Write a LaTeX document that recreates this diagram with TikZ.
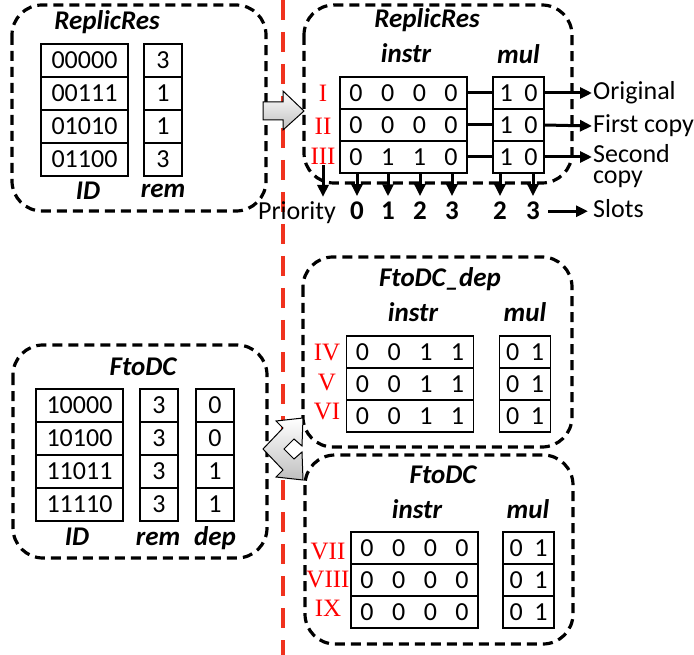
\documentclass[tikz,border=0pt]{standalone}
\usepackage{fontspec}
\setmainfont{Carlito}
\newfontfamily\romfont{Liberation Serif}
\usetikzlibrary{arrows.meta}

\definecolor{cutred}{RGB}{240,50,30}
\newcommand{\dgap}{\hspace{18.5pt}}
\newcommand{\mgap}{\hspace{11.5pt}}

\tikzset{
  grpbox/.style={draw, line width=3.2pt, dash pattern=on 10pt off 6pt, rounded corners=30pt},
  cellbox/.style={draw, line width=1.2pt, fill=white, inner sep=0pt, outer sep=0pt,
    font=\fontsize{26}{28}\selectfont},
  idcell/.style={cellbox, minimum width=87pt, minimum height=33pt},
  remcell/.style={cellbox, minimum width=38pt, minimum height=33pt},
  instrcell/.style={cellbox, minimum width=127pt, minimum height=32pt},
  mulcell/.style={cellbox, minimum width=51pt, minimum height=32pt},
  titletext/.style={anchor=base, inner sep=1pt, font=\fontsize{27}{28}\selectfont\bfseries\itshape},
  romnum/.style={inner sep=1pt, text=red, font=\fontsize{25}{26}\selectfont\romfont},
  bodytext/.style={inner sep=1pt, font=\fontsize{26}{28}\selectfont},
  slotnum/.style={anchor=base, inner sep=1pt, font=\fontsize{27}{28}\selectfont\bfseries},
  flowarrow/.style={line width=3pt, -{Triangle[length=12pt,width=11pt]}},
  greyarrow/.style={draw, line width=1pt, top color=white, bottom color=gray!50},
}

\begin{document}
\begin{tikzpicture}[x=1pt,y=-1pt]
    \useasboundingbox (0,0) rectangle (694,655);

    % Red cut line
    \draw[cutred, line width=4pt, dash pattern=on 20pt off 12pt] (283,0) -- (283,655);

    % Group boxes
    \draw[grpbox] (12,5) rectangle (266,211);
    \draw[grpbox] (304,5) rectangle (572,183);
    \draw[grpbox] (13,345) rectangle (267,558);
    \draw[grpbox] (303,257) rectangle (572,447);
    \draw[grpbox] (305,455) rectangle (573,644);

    % ReplicRes table (left)
    \node[titletext] (rtitle) at (107,30) {ReplicRes};
    \node[idcell] (rid1) at (84.5,60.5) {00000};
    \node[idcell] (rid2) at (84.5,93.5) {00111};
    \node[idcell] (rid3) at (84.5,126.5) {01010};
    \node[idcell] (rid4) at (84.5,159.5) {01100};
    \node[remcell] (rrem1) at (163,60.5) {3};
    \node[remcell] (rrem2) at (163,93.5) {1};
    \node[remcell] (rrem3) at (163,126.5) {1};
    \node[remcell] (rrem4) at (163,159.5) {3};
    \node[titletext] (ridlab) at (88,200) {ID};
    \node[titletext] (rremlab) at (163,198) {rem};

    % ReplicRes slots (right)
    \node[titletext] (rtitle2) at (427,28) {ReplicRes};
    \node[titletext] (rinstr) at (406,63) {instr};
    \node[titletext] (rmul) at (518.5,64) {mul};
    \node[instrcell] (ri1) at (403.5,93) {0\dgap0\dgap0\dgap0};
    \node[instrcell] (ri2) at (403.5,125) {0\dgap0\dgap0\dgap0};
    \node[instrcell] (ri3) at (403.5,157) {0\dgap1\dgap1\dgap0};
    \node[mulcell] (rm1) at (518.5,93) {1\mgap0};
    \node[mulcell] (rm2) at (518.5,125) {1\mgap0};
    \node[mulcell] (rm3) at (518.5,157) {1\mgap0};
    \node[romnum] (rn1) at (323,93) {I};
    \node[romnum] (rn2) at (323,126) {II};
    \node[romnum] (rn3) at (323,156) {III};
    \draw[line width=3pt] (ri1.east) -- (rm1.west);
    \draw[line width=3pt] (ri2.east) -- (rm2.west);
    \draw[line width=3pt] (ri3.east) -- (rm3.west);

    % Copies
    \node[bodytext, anchor=west] (orig) at (592,93) {Original};
    \node[bodytext, anchor=west] (first) at (592,126) {First copy};
    \node[bodytext, anchor=west, align=left, font=\fontsize{26}{21}\selectfont] (second) at (592,166) {Second\\copy};
    \draw[flowarrow] (rm1.east) -- (orig.west);
    \draw[flowarrow] (rm2.east) -- (first.west);
    \draw[flowarrow] (rm3.east) -- (rm3.east -| second.west);

    % Priority and slots
    \node[bodytext, anchor=base] (prio) at (297,220) {Priority};
    \node[slotnum] (p0) at (357,220) {0};
    \node[slotnum] (p1) at (388,220) {1};
    \node[slotnum] (p2) at (420,220) {2};
    \node[slotnum] (p3) at (452,220) {3};
    \node[slotnum] (m2) at (500,220) {2};
    \node[slotnum] (m3) at (533,220) {3};
    \node[bodytext, anchor=base west] (slots) at (592,218) {Slots};
    \draw[flowarrow, shorten >=4pt] (rn3.south) -- (rn3.south |- prio.north);
    \draw[flowarrow, shorten >=5pt] (p0 |- ri3.south) -- (p0.north);
    \draw[flowarrow, shorten >=5pt] (p1 |- ri3.south) -- (p1.north);
    \draw[flowarrow, shorten >=5pt] (p2 |- ri3.south) -- (p2.north);
    \draw[flowarrow, shorten >=5pt] (p3 |- ri3.south) -- (p3.north);
    \draw[flowarrow, shorten >=5pt] (m2 |- rm3.south) -- (m2.north);
    \draw[flowarrow, shorten >=5pt] (m3 |- rm3.south) -- (m3.north);
    \draw[flowarrow, shorten <=7pt, shorten >=4pt] (m3.east) -- (m3.east -| slots.west);

    % FtoDC table (left)
    \node[titletext] (ftitle) at (143,375) {FtoDC};
    \node[idcell] (fid1) at (79.5,405.5) {10000};
    \node[idcell] (fid2) at (79.5,438.5) {10100};
    \node[idcell] (fid3) at (79.5,471.5) {11011};
    \node[idcell] (fid4) at (79.5,504.5) {11110};
    \node[remcell] (frem1) at (159,405.5) {3};
    \node[remcell] (frem2) at (159,438.5) {3};
    \node[remcell] (frem3) at (159,471.5) {3};
    \node[remcell] (frem4) at (159,504.5) {3};
    \node[remcell] (fdep1) at (215,405.5) {0};
    \node[remcell] (fdep2) at (215,438.5) {0};
    \node[remcell] (fdep3) at (215,471.5) {1};
    \node[remcell] (fdep4) at (215,504.5) {1};
    \node[titletext] (fidlab) at (77,545) {ID};
    \node[titletext] (fremlab) at (158,545) {rem};
    \node[titletext] (fdeplab) at (215,545) {dep};

    % FtoDC_dep slots
    \node[titletext] (dtitle) at (440,287) {FtoDC\_dep};
    \node[titletext] (dinstr) at (413,322) {instr};
    \node[titletext] (dmul) at (525,322) {mul};
    \node[instrcell] (di1) at (410,352) {0\dgap0\dgap1\dgap1};
    \node[instrcell] (di2) at (410,384) {0\dgap0\dgap1\dgap1};
    \node[instrcell] (di3) at (410,416) {0\dgap0\dgap1\dgap1};
    \node[mulcell] (dm1) at (525,352) {0\mgap1};
    \node[mulcell] (dm2) at (525,384) {0\mgap1};
    \node[mulcell] (dm3) at (525,416) {0\mgap1};
    \node[romnum] (dn1) at (327,353) {IV};
    \node[romnum] (dn2) at (327,383) {V};
    \node[romnum] (dn3) at (327,412) {VI};

    % FtoDC slots
    \node[titletext] (ctitle) at (443,483) {FtoDC};
    \node[titletext] (cinstr) at (417,518) {instr};
    \node[titletext] (cmul) at (528,518) {mul};
    \node[instrcell] (ci1) at (414.5,548) {0\dgap0\dgap0\dgap0};
    \node[instrcell] (ci2) at (414.5,580) {0\dgap0\dgap0\dgap0};
    \node[instrcell] (ci3) at (414.5,612) {0\dgap0\dgap0\dgap0};
    \node[mulcell] (cm1) at (528.5,548) {0\mgap1};
    \node[mulcell] (cm2) at (528.5,580) {0\mgap1};
    \node[mulcell] (cm3) at (528.5,612) {0\mgap1};
    \node[romnum] (cn1) at (328,552) {VII};
    \node[romnum] (cn2) at (328,580) {VIII};
    \node[romnum] (cn3) at (328,608) {IX};

    % Grey arrows
    \draw[greyarrow] (263,102) -- (283,102) -- (283,91) -- (304,111)
        -- (283,130) -- (283,120) -- (263,120) -- cycle;
    \draw[greyarrow] (263,449) -- (283,428) -- (276,421) -- (303,418) -- (302,446)
        -- (294,439) -- (284,449) -- (294,459) -- (302,452) -- (303,480)
        -- (276,477) -- (283,470) -- cycle;
\end{tikzpicture}
\end{document}
